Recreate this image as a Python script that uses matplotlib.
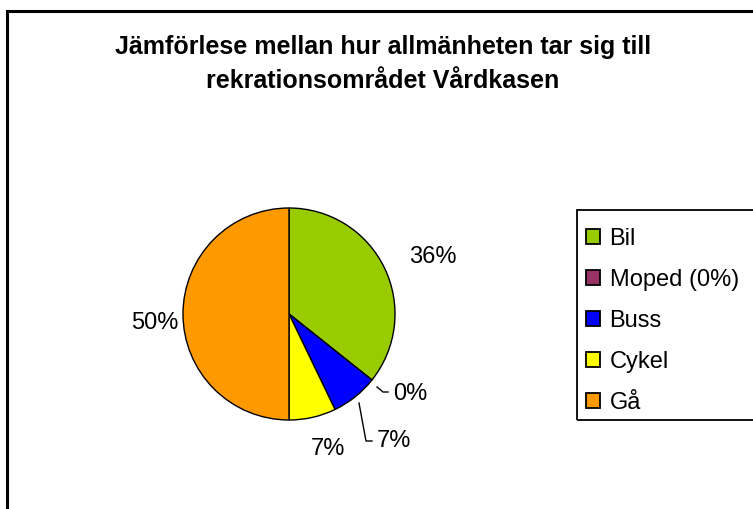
import matplotlib
matplotlib.use("Agg")
import matplotlib.pyplot as plt
from matplotlib.patches import Rectangle
import numpy as np

plt.rcParams['font.family'] = ['Liberation Sans', 'DejaVu Sans']

categories = ["Bil", "Moped (0%)", "Buss", "Cykel", "Gå"]
values = [35.7, 0.0, 7.15, 7.15, 50.0]
pct_labels = ["36%", "0%", "7%", "7%", "50%"]
colors = ["#99CC00", "#993366", "#0000FF", "#FFFF00", "#FF9900"]
title = "Jämförlese mellan hur allmänheten tar sig till\nrekrationsområdet Vårdkasen"

W, H = 753, 509
fig = plt.figure(figsize=(W / 100, H / 100), dpi=100)
ax = fig.add_axes([0, 0, 1, 1])

# outer chart border
ax.add_patch(Rectangle((7, -20), 800, H - 11 + 20, fill=False, edgecolor='black', linewidth=2.2))

cx, cy, r = 289, H - 314, 106
wedges, _ = ax.pie(values, colors=colors, startangle=90, counterclock=False,
                   center=(cx, cy), radius=r, frame=True,
                   wedgeprops=dict(edgecolor='black', linewidth=1.0))
ax.set_xlim(0, W)
ax.set_ylim(0, H)
ax.set_aspect('equal')
ax.axis('off')

# data labels
fs = 17
ax.text(433, H - 257, pct_labels[0], fontsize=fs, ha='center', va='center')
ax.text(155, H - 323, pct_labels[4], fontsize=fs, ha='center', va='center')
ax.text(328, H - 449, pct_labels[3], fontsize=fs, ha='center', va='center')
ax.text(410, H - 394, pct_labels[1], fontsize=fs, ha='center', va='center')
ax.text(394, H - 441, pct_labels[2], fontsize=fs, ha='center', va='center')
# leader lines
ax.plot([377, 383, 388], [H - 387, H - 392, H - 392], color='black', lw=1.0)
ax.plot([359, 366, 372], [H - 403, H - 441, H - 441], color='black', lw=1.0)

# title
ax.text(383, H - 64, title, fontsize=18, fontweight='bold', ha='center', va='center',
        linespacing=1.52)

# legend
ax.add_patch(Rectangle((577, H - 420), 300, 210, fill=False, edgecolor='black', linewidth=1.3))
leg = ax.legend(wedges, categories, loc='upper left', bbox_to_anchor=(586 / W, 1 - 228 / H),
                bbox_transform=fig.transFigure, frameon=False, fontsize=17,
                handlelength=0.6, handleheight=0.6, handletextpad=0.4,
                labelspacing=0.8, borderpad=0, borderaxespad=0)
for h in leg.legend_handles:
    h.set_linewidth(1.3)

fig.savefig("out.png", dpi=100)
